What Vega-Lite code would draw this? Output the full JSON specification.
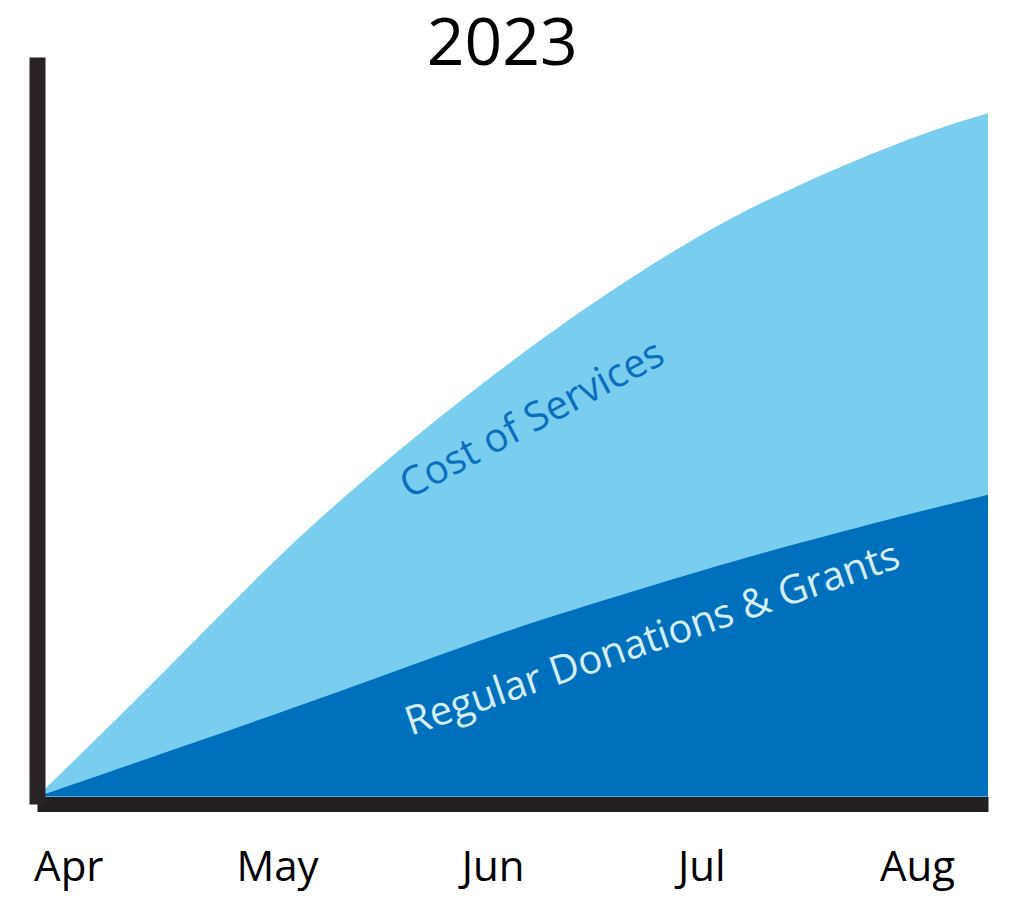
{
  "$schema": "https://vega.github.io/schema/vega-lite/v6.json",
  "width": 951,
  "height": 747,
  "autosize": {"type": "none"},
  "padding": {"left": 37, "top": 57, "right": 36, "bottom": 99},
  "background": "white",
  "config": {"view": {"stroke": null}, "axis": {"grid": false}},
  "datasets": {
    "flows": [
      {"date": "2023-03-27T12:00:00", "amount": 0, "series": "Cost of Services"},
      {"date": "2023-04-01T00:00:00", "amount": 4.1, "series": "Cost of Services"},
      {"date": "2023-04-15T00:00:00", "amount": 17.0, "series": "Cost of Services"},
      {"date": "2023-05-01T00:00:00", "amount": 32.5, "series": "Cost of Services"},
      {"date": "2023-05-15T00:00:00", "amount": 44.2, "series": "Cost of Services"},
      {"date": "2023-06-01T00:00:00", "amount": 57.1, "series": "Cost of Services"},
      {"date": "2023-06-15T00:00:00", "amount": 66.6, "series": "Cost of Services"},
      {"date": "2023-07-01T00:00:00", "amount": 76.3, "series": "Cost of Services"},
      {"date": "2023-07-15T00:00:00", "amount": 82.8, "series": "Cost of Services"},
      {"date": "2023-08-01T00:00:00", "amount": 89.5, "series": "Cost of Services"},
      {"date": "2023-08-11T05:00:00", "amount": 92.4, "series": "Cost of Services"},
      {"date": "2023-03-27T12:00:00", "amount": 0, "series": "Regular Donations & Grants"},
      {"date": "2023-04-01T00:00:00", "amount": 1.4, "series": "Regular Donations & Grants"},
      {"date": "2023-04-15T00:00:00", "amount": 6.0, "series": "Regular Donations & Grants"},
      {"date": "2023-05-01T00:00:00", "amount": 11.2, "series": "Regular Donations & Grants"},
      {"date": "2023-05-15T00:00:00", "amount": 15.9, "series": "Regular Donations & Grants"},
      {"date": "2023-06-01T00:00:00", "amount": 21.8, "series": "Regular Donations & Grants"},
      {"date": "2023-06-15T00:00:00", "amount": 26.0, "series": "Regular Donations & Grants"},
      {"date": "2023-07-01T00:00:00", "amount": 30.6, "series": "Regular Donations & Grants"},
      {"date": "2023-07-15T00:00:00", "amount": 34.3, "series": "Regular Donations & Grants"},
      {"date": "2023-08-01T00:00:00", "amount": 38.5, "series": "Regular Donations & Grants"},
      {"date": "2023-08-11T05:00:00", "amount": 40.8, "series": "Regular Donations & Grants"}
    ],
    "labels": [
      {"date": "2023-06-06T17:00:00", "amount": 50.9, "label": "Cost of Services", "kind": "cost"},
      {"date": "2023-06-24T00:00:00", "amount": 21.2, "label": "Regular Donations & Grants", "kind": "income"},
      {"date": "2023-06-02T09:00:00", "amount": 98.9, "label": "2023", "kind": "title"}
    ]
  },
  "encoding": {
    "x": {
      "field": "date",
      "type": "temporal",
      "scale": {
        "domain": [
          {"year": 2023, "month": "Mar", "date": 27, "hours": 12},
          {"year": 2023, "month": "Aug", "date": 11, "hours": 5}
        ],
        "nice": false
      },
      "axis": {
        "title": null,
        "format": "%b",
        "values": [
          {"year": 2023, "month": "Apr", "date": 1},
          {"year": 2023, "month": "May", "date": 1},
          {"year": 2023, "month": "Jun", "date": 1},
          {"year": 2023, "month": "Jul", "date": 1},
          {"year": 2023, "month": "Aug", "date": 1}
        ],
        "ticks": false,
        "tickSize": 0,
        "grid": false,
        "labelFont": "Open Sans",
        "labelFontSize": 42,
        "labelColor": "#000000",
        "labelPadding": 76,
        "labelBaseline": "alphabetic",
        "labelFlush": false,
        "labelOverlap": false,
        "domainColor": "#221e22",
        "domainWidth": 15,
        "zindex": 1
      }
    },
    "y": {
      "field": "amount",
      "type": "quantitative",
      "scale": {"domain": [-1, 100], "nice": false, "zero": false},
      "axis": {
        "title": null,
        "labels": false,
        "ticks": false,
        "tickSize": 0,
        "grid": false,
        "domainColor": "#2a2326",
        "domainWidth": 16,
        "zindex": 1
      }
    }
  },
  "layer": [
    {
      "data": {"name": "flows"},
      "transform": [{"filter": "datum.series === 'Cost of Services'"}],
      "mark": {"type": "area", "interpolate": "basis", "color": "#79cdef", "opacity": 1},
      "encoding": {"y": {"field": "amount", "type": "quantitative", "stack": null}}
    },
    {
      "data": {"name": "flows"},
      "transform": [{"filter": "datum.series === 'Regular Donations & Grants'"}],
      "mark": {"type": "area", "interpolate": "basis", "color": "#0070bd", "opacity": 1},
      "encoding": {"y": {"field": "amount", "type": "quantitative", "stack": null}}
    },
    {
      "data": {"name": "labels"},
      "transform": [{"filter": "datum.kind === 'cost'"}],
      "mark": {"type": "text", "angle": -28, "font": "Open Sans", "fontSize": 40, "color": "#0a6ebd", "align": "center", "baseline": "middle"},
      "encoding": {"text": {"field": "label"}}
    },
    {
      "data": {"name": "labels"},
      "transform": [{"filter": "datum.kind === 'income'"}],
      "mark": {"type": "text", "angle": -19, "font": "Open Sans", "fontSize": 40, "color": "#d4effb", "align": "center", "baseline": "middle"},
      "encoding": {"text": {"field": "label"}}
    },
    {
      "data": {"name": "labels"},
      "transform": [{"filter": "datum.kind === 'title'"}],
      "mark": {"type": "text", "font": "Open Sans", "fontSize": 66, "color": "#000000", "align": "center", "baseline": "alphabetic", "clip": false},
      "encoding": {"text": {"field": "label"}}
    }
  ]
}
